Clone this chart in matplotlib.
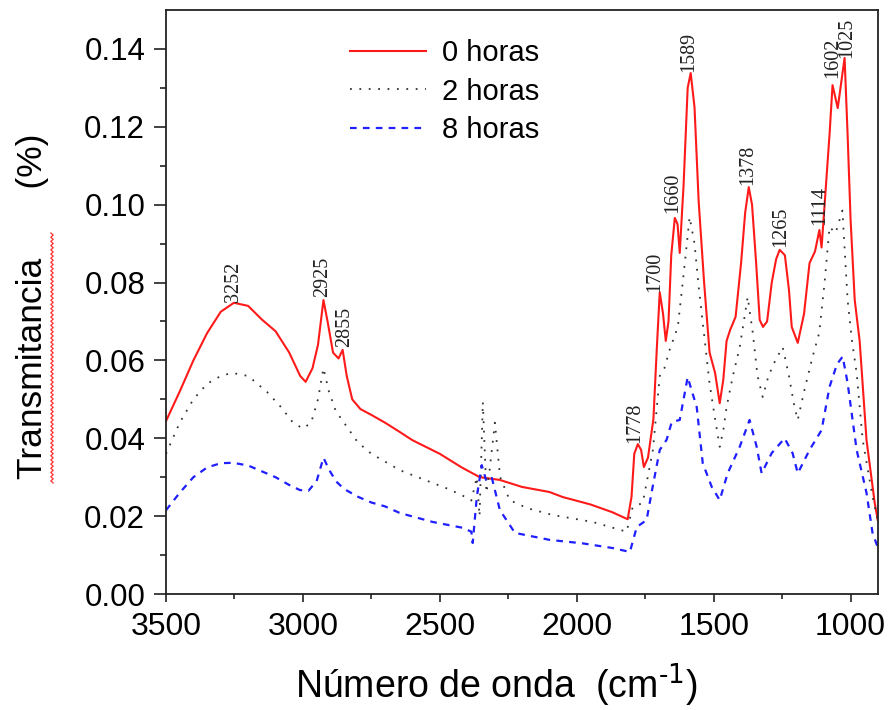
import numpy as np
import matplotlib
matplotlib.use("Agg")
import matplotlib.pyplot as plt
from matplotlib.lines import Line2D

plt.rcParams['font.family'] = ['Liberation Sans', 'DejaVu Sans']

# ---- data (wavenumber, transmitance) ----
x0 = [3500, 3450, 3400, 3350, 3300, 3252, 3200, 3150, 3100, 3050, 3010, 2990, 2965,
      2945, 2925, 2910, 2890, 2870, 2855, 2840, 2820, 2790, 2750, 2700, 2646, 2600,
      2500, 2420, 2354, 2281, 2200, 2100, 2051, 1950, 1870, 1814, 1800, 1790, 1777,
      1765, 1755, 1740, 1720, 1708, 1697, 1685, 1675, 1665, 1655, 1642, 1632, 1624,
      1610, 1595, 1584, 1570, 1555, 1535, 1515, 1495, 1478, 1465, 1453, 1440, 1420,
      1400, 1385, 1372, 1360, 1345, 1332, 1320, 1305, 1288, 1272, 1259, 1240, 1225,
      1215, 1193, 1170, 1150, 1130, 1114, 1106, 1090, 1077, 1066, 1047, 1035, 1022,
      1011, 1000, 985, 967, 942, 912, 901]
y0 = [0.0444, 0.0520, 0.0600, 0.0670, 0.0725, 0.0748, 0.0740, 0.0705, 0.0675, 0.0620,
      0.0560, 0.0545, 0.0580, 0.0640, 0.0755, 0.0700, 0.0620, 0.0605, 0.0627, 0.0560,
      0.0500, 0.0475, 0.0460, 0.0440, 0.0416, 0.0395, 0.0360, 0.0325, 0.0300, 0.0293,
      0.0275, 0.0262, 0.0249, 0.0230, 0.0210, 0.0192, 0.0250, 0.0360, 0.0385, 0.0370,
      0.0326, 0.0350, 0.0450, 0.0627, 0.0775, 0.0720, 0.0650, 0.0700, 0.0870, 0.0966,
      0.0950, 0.0876, 0.1050, 0.1300, 0.1338, 0.1250, 0.1010, 0.0800, 0.0620, 0.0568,
      0.0490, 0.0550, 0.0650, 0.0678, 0.0712, 0.0850, 0.0980, 0.1045, 0.1000, 0.0850,
      0.0704, 0.0686, 0.0700, 0.0800, 0.0860, 0.0884, 0.0870, 0.0780, 0.0686, 0.0645,
      0.0720, 0.0850, 0.0880, 0.0935, 0.0890, 0.1050, 0.1180, 0.1307, 0.1248, 0.1310,
      0.1377, 0.1180, 0.0960, 0.0755, 0.0650, 0.0396, 0.0234, 0.0190]

x2 = [3500, 3450, 3400, 3350, 3300, 3259, 3200, 3131, 3080, 3036, 3000, 2970, 2945,
      2925, 2905, 2880, 2850, 2800, 2750, 2700, 2646, 2555, 2470, 2420, 2385, 2365,
      2355, 2343, 2330, 2318, 2299, 2280, 2245, 2179, 2088, 1942, 1818, 1796, 1759,
      1722, 1697, 1680, 1661, 1631, 1610, 1588, 1570, 1555, 1526, 1515, 1495, 1478,
      1465, 1453, 1430, 1405, 1390, 1376, 1357, 1340, 1321, 1300, 1275, 1248, 1225,
      1205, 1193, 1170, 1139, 1115, 1095, 1077, 1055, 1030, 1011, 995, 978, 956, 920, 901]
y2 = [0.0360, 0.0440, 0.0500, 0.0540, 0.0560, 0.0568, 0.0560, 0.0519, 0.0480, 0.0440,
      0.0425, 0.0440, 0.0500, 0.0580, 0.0520, 0.0470, 0.0440, 0.0390, 0.0360, 0.0340,
      0.0318, 0.0293, 0.0270, 0.0254, 0.0240, 0.0300, 0.0200, 0.0493, 0.0260, 0.0320,
      0.0440, 0.0300, 0.0241, 0.0220, 0.0203, 0.0185, 0.0160, 0.0223, 0.0234, 0.0370,
      0.0560, 0.0580, 0.0627, 0.0686, 0.0820, 0.0968, 0.0900, 0.0790, 0.0610, 0.0540,
      0.0450, 0.0378, 0.0420, 0.0480, 0.0560, 0.0634, 0.0700, 0.0763, 0.0670, 0.0560,
      0.0506, 0.0560, 0.0600, 0.0634, 0.0560, 0.0480, 0.0447, 0.0520, 0.0609, 0.0670,
      0.0800, 0.0943, 0.0927, 0.0985, 0.0755, 0.0650, 0.0568, 0.0396, 0.0250, 0.0190]

x8 = [3500, 3450, 3400, 3350, 3300, 3255, 3200, 3150, 3100, 3050, 3011, 2980, 2950,
      2925, 2905, 2880, 2850, 2800, 2750, 2700, 2646, 2526, 2416, 2385, 2380, 2365,
      2347, 2330, 2310, 2281, 2226, 2099, 1978, 1869, 1806, 1781, 1745, 1723, 1697,
      1672, 1653, 1624, 1595, 1562, 1540, 1507, 1478, 1449, 1405, 1369, 1343, 1325,
      1288, 1241, 1212, 1193, 1150, 1106, 1077, 1050, 1029, 1011, 978, 942, 920, 901]
y8 = [0.0215, 0.0260, 0.0300, 0.0325, 0.0336, 0.0337, 0.0330, 0.0315, 0.0300, 0.0280,
      0.0267, 0.0265, 0.0290, 0.0350, 0.0320, 0.0290, 0.0270, 0.0250, 0.0235, 0.0225,
      0.0208, 0.0185, 0.0170, 0.0160, 0.0131, 0.0250, 0.0331, 0.0290, 0.0298, 0.0216,
      0.0157, 0.0139, 0.0130, 0.0118, 0.0108, 0.0172, 0.0190, 0.0275, 0.0370, 0.0396,
      0.0442, 0.0447, 0.0557, 0.0480, 0.0336, 0.0275, 0.0241, 0.0310, 0.0378, 0.0447,
      0.0378, 0.0310, 0.0362, 0.0400, 0.0362, 0.0310, 0.0370, 0.0421, 0.0532, 0.0590,
      0.0610, 0.0542, 0.0370, 0.0260, 0.0157, 0.0120]

# peak labels
peak_txt = ['3252', '2925', '2855', '1778', '1700', '1660', '1589', '1378', '1265',
            '1114', '1602', '1025']
peak_x = [3252, 2927, 2847, 1788, 1714, 1648, 1590, 1376, 1254, 1112, 1066, 1013]
peak_y = [0.0750, 0.0763, 0.0634, 0.0388, 0.0776, 0.0979, 0.1341, 0.1051, 0.0890,
          0.0948, 0.1325, 0.1377]

series_lbl = ['0 horas', '2 horas', '8 horas']

fig = plt.figure(figsize=(8.91, 7.10), dpi=100)
ax = fig.add_axes([166/891, 1 - 594/710, 712/891, 584/710])

ax.plot(x0, y0, color='#ff1a1a', lw=1.5, label=series_lbl[0])
ax.plot(x2, y2, color='#333333', lw=1.3, ls=(0, (1, 4.2)), label=series_lbl[1])
ax.plot(x8, y8, color='#1f1fff', lw=1.6, ls=(0, (3, 2.8)), label=series_lbl[2])

for t, px, py in zip(peak_txt, peak_x, peak_y):
    ax.text(px, py, t, rotation=90, ha='center', va='bottom', fontsize=14.5,
            family=['Liberation Serif', 'DejaVu Serif'], color='#222222')

ax.set_xlim(3500, 900)
ax.set_ylim(0, 0.15)
ax.set_xticks([3500, 3000, 2500, 2000, 1500, 1000])
ax.set_xticks(np.arange(3250, 900, -500), minor=True)
ax.set_yticks(np.arange(0, 0.141, 0.02))
ax.set_yticks(np.arange(0.01, 0.141, 0.02), minor=True)
ax.yaxis.set_major_formatter(plt.FormatStrFormatter('%.2f'))

ax.tick_params(axis='y', which='major', direction='out', length=9, width=1.2,
               labelsize=22.5, pad=6, colors='#222222', labelcolor='black')
ax.tick_params(axis='y', which='minor', direction='out', length=4.5, width=1.2,
               colors='#222222')
ax.tick_params(axis='x', which='major', direction='out', length=6, width=1.2,
               labelsize=23, pad=7, colors='#222222', labelcolor='black')
ax.tick_params(axis='x', which='minor', direction='out', length=3.5, width=1.2,
               colors='#222222')
for s in ax.spines.values():
    s.set_linewidth(1.3)
    s.set_color('#222222')

leg = ax.legend(loc='upper left', bbox_to_anchor=(0.242, 0.97), frameon=False,
                fontsize=21, handlelength=2.6, handletextpad=0.55,
                labelspacing=0.36, borderaxespad=0)

fig.text(496/891, 1 - 685/710, 'Número de onda  (cm$^{\\text{-1}}$)',
         ha='center', va='center', fontsize=27)
fig.text(33/891, 1 - 306/710, 'Transmitancia       (%)', rotation=90,
         ha='center', va='center', fontsize=25.5)

# red wavy spell-check underline beside the y label
wy = np.linspace(1 - 483/710, 1 - 233/710, 120)
wx = 52/891 + np.where(np.arange(120) % 2 == 0, 1, -1) * 1.2/891
fig.add_artist(Line2D(wx, wy, color='#ff3030', lw=0.9))

fig.savefig('out.png', dpi=100)
